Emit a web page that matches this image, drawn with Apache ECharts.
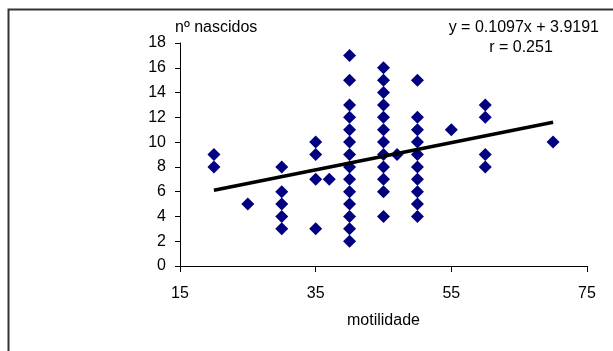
<!DOCTYPE html>
<html>
<head>
<meta charset="utf-8">
<script src="https://cdn.jsdelivr.net/npm/echarts@6/dist/echarts.min.js"></script>
<style>html,body{margin:0;padding:0;background:#fff}#c{width:613px;height:351px}</style>
</head>
<body>
<div id="c"></div>
<script>
// motilidade (x) columns and nº nascidos (y) values at each
const x20 = [9, 8];
const x25 = [5];
const x30 = [8, 6, 5, 4, 3];
const x35 = [10, 9, 7, 3];
const x37 = [7];
const x40 = [17, 15, 13, 12, 11, 10, 9, 8, 7, 6, 5, 4, 3, 2];
const x45 = [16, 15, 14, 13, 12, 11, 10, 9, 8, 7, 6, 4];
const x47 = [9];
const x50 = [15, 12, 11, 10, 9, 8, 7, 6, 5, 4];
const x55 = [11];
const x60 = [13, 12, 9, 8];
const x70 = [10];
const columns = [[20, x20], [25, x25], [30, x30], [35, x35], [37, x37], [40, x40], [45, x45], [47, x47], [50, x50], [55, x55], [60, x60], [70, x70]];
const trendX = [20, 70];
const trendY = [6.113, 11.598];
const xTicks = [15, 35, 55, 75];
const yTicks = [0, 2, 4, 6, 8, 10, 12, 14, 16, 18];
const equationText = 'y = 0.1097x + 3.9191';
const rText = 'r = 0.251';

const points = [];
columns.forEach(([x, ys]) => ys.forEach(y => points.push([x, y])));
const trend = trendX.map((x, i) => [x, trendY[i]]);

const font = 'Liberation Sans, Arial, sans-serif';
const fs = 16;
const chart = echarts.init(document.getElementById('c'), null, {renderer: 'canvas'});
chart.setOption({
  animation: false,
  backgroundColor: '#fff',
  grid: {left: 180, right: 26, top: 43, bottom: 85, containLabel: false},
  xAxis: {
    type: 'value', min: xTicks[0], max: xTicks[xTicks.length - 1], interval: 20,
    name: 'motilidade', nameLocation: 'middle', nameGap: 47,
    nameTextStyle: {fontFamily: font, fontSize: fs, color: '#000'},
    axisLine: {lineStyle: {color: '#000', width: 1}},
    axisTick: {show: true, inside: false, length: 6, lineStyle: {color: '#000'}},
    axisLabel: {fontFamily: font, fontSize: fs, color: '#000', margin: 20},
    splitLine: {show: false}
  },
  yAxis: {
    type: 'value', min: yTicks[0], max: yTicks[yTicks.length - 1], interval: 2,
    name: 'nº nascidos', nameLocation: 'end', nameGap: 7,
    nameTextStyle: {fontFamily: font, fontSize: fs, color: '#000', align: 'left', padding: [0, 0, 0, -5]},
    axisLine: {show: true, lineStyle: {color: '#000', width: 1}},
    axisTick: {show: true, inside: false, length: 5, lineStyle: {color: '#000'}},
    axisLabel: {fontFamily: font, fontSize: fs, color: '#000', margin: 14},
    splitLine: {show: false}
  },
  graphic: [
    {type: 'rect', shape: {x: 8.5, y: 9.5, width: 700, height: 400}, style: {fill: 'none', stroke: '#333', lineWidth: 2}, z: -1},
    {type: 'text', x: 599, y: 28, style: {text: equationText, font: fs + 'px ' + font, fill: '#000', textAlign: 'right', textVerticalAlign: 'middle'}},
    {type: 'text', x: 521, y: 48, style: {text: rText, font: fs + 'px ' + font, fill: '#000', textAlign: 'center', textVerticalAlign: 'middle'}}
  ],
  series: [
    {type: 'scatter', data: points, symbol: 'diamond', symbolSize: [13, 13], itemStyle: {color: '#000080', opacity: 1}, z: 2},
    {type: 'line', data: trend, showSymbol: false, symbol: 'none', lineStyle: {color: '#000', width: 3.5}, z: 3}
  ]
});
</script>
</body>
</html>
